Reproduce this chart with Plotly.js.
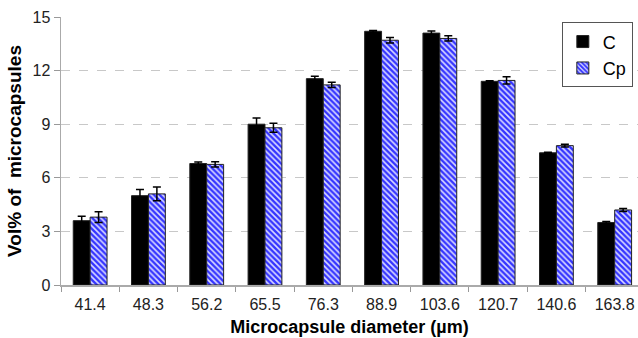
<!DOCTYPE html>
<html>
<head>
<meta charset="utf-8">
<script src="https://cdn.plot.ly/plotly-3.0.1.min.js"></script>
<style>html,body{margin:0;padding:0;background:#fff;}#chart{width:638px;height:338px;}</style>
</head>
<body>
<div id="chart"></div>
<script>
const categories = ["41.4","48.3","56.2","65.5","76.3","88.9","103.6","120.7","140.6","163.8"];
const valuesC  = [3.6, 5.0, 6.8, 9.0, 11.55, 14.2, 14.1, 11.4, 7.4, 3.5];
const errorsC  = [0.25, 0.35, 0.08, 0.35, 0.13, 0.05, 0.12, 0.03, 0.03, 0.06];
const valuesCp = [3.8, 5.1, 6.75, 8.8, 11.2, 13.7, 13.8, 11.45, 7.8, 4.2];
const errorsCp = [0.3, 0.38, 0.15, 0.25, 0.15, 0.15, 0.15, 0.2, 0.08, 0.08];
const yTicks = [0, 3, 6, 9, 12, 15];
const seriesNames = ["C", "Cp"];

const font = "Liberation Sans, Arial, sans-serif";

const traces = [
  {
    type: "bar", name: seriesNames[0], x: categories, y: valuesC,
    marker: {color: "#000000", line: {color: "#222", width: 1}},
    error_y: {type: "data", array: errorsC, visible: true, color: "#000", thickness: 1.5, width: 4}
  },
  {
    type: "bar", name: seriesNames[1], x: categories, y: valuesCp,
    marker: {color: "#ffffff", line: {color: "#222", width: 1},
      pattern: {shape: "\\", fgcolor: "#3434ff", bgcolor: "#dcdcff", size: 4, solidity: 0.6}},
    error_y: {type: "data", array: errorsCp, visible: true, color: "#000", thickness: 1.5, width: 4}
  }
];

const layout = {
  width: 638, height: 338,
  margin: {l: 61, r: 0, t: 17, b: 53, pad: 0},
  paper_bgcolor: "#fff", plot_bgcolor: "#fff",
  barmode: "group", bargap: 0.42, bargroupgap: 0,
  showlegend: true,
  legend: {x: 0.868, y: 0.98, xanchor: "left", yanchor: "top",
    bordercolor: "#555", borderwidth: 1, bgcolor: "#fff",
    font: {family: font, size: 18, color: "#000"}, tracegroupgap: 0, itemwidth: 30,
    entrywidth: 0},
  xaxis: {
    type: "category", range: [-0.5, 9.4], tickson: "boundaries",
    ticks: "outside", ticklen: 5, tickcolor: "#999", tickwidth: 1,
    showline: true, linecolor: "#aaa", linewidth: 1.5, showgrid: false, zeroline: false,
    tickfont: {family: font, size: 16, color: "#222"}, ticklabelstandoff: 4,
    title: {text: "Microcapsule diameter (µm)", font: {family: font, size: 18, color: "#000", weight: "bold"}, standoff: 8}
  },
  yaxis: {
    range: [0, 15], tickvals: yTicks, ticktext: yTicks.map(String),
    ticks: "outside", ticklen: 6, tickcolor: "#999", tickwidth: 1,
    showline: true, linecolor: "#aaa", linewidth: 1.5,
    showgrid: true, gridcolor: "#c8c8c8", griddash: "dash", gridwidth: 1, zeroline: false,
    tickfont: {family: font, size: 16, color: "#222"},
    title: {text: "Vol% of  microcapsules", font: {family: font, size: 19, color: "#000", weight: "bold"}, standoff: 6}
  }
};

Plotly.newPlot("chart", traces, layout, {displayModeBar: false, staticPlot: true});
</script>
</body>
</html>
